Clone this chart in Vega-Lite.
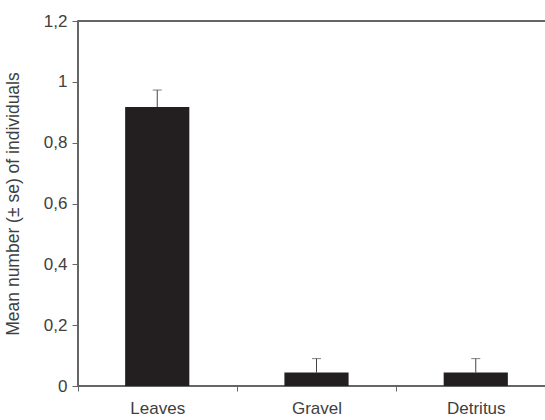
{
  "$schema": "https://vega.github.io/schema/vega-lite/v6.json",
  "width": 477,
  "height": 365,
  "padding": {"left": 4, "top": 12, "right": 0, "bottom": 0},
  "background": "white",
  "config": {
    "view": {"stroke": "#333333", "strokeWidth": 1.5},
    "font": "Liberation Sans",
    "axis": {"domainColor": "#666666", "tickColor": "#666666", "labelColor": "#404040", "titleColor": "#404040", "grid": false, "labelFontSize": 17, "titleFontSize": 17.5, "titleFontWeight": "normal"}
  },
  "data": {
    "values": [
      {"substrate": "Leaves", "mean": 0.917, "upper": 0.973},
      {"substrate": "Gravel", "mean": 0.044, "upper": 0.09},
      {"substrate": "Detritus", "mean": 0.044, "upper": 0.09}
    ]
  },
  "encoding": {
    "x": {
      "field": "substrate",
      "type": "nominal",
      "sort": null,
      "scale": {"paddingInner": 0.597, "paddingOuter": 0.296},
      "axis": {"title": null, "labelAngle": 0, "tickOffset": -79.5, "labelOffset": 79.5, "tickSize": 5, "labelPadding": 9}
    }
  },
  "layer": [
    {
      "mark": {"type": "bar", "color": "#231f20"},
      "encoding": {
        "y": {
          "field": "mean",
          "type": "quantitative",
          "scale": {"domain": [0, 1.2], "nice": false},
          "axis": {"title": "Mean number (± se) of individuals", "values": [0, 0.2, 0.4, 0.6, 0.8, 1, 1.2], "labelExpr": "replace(format(datum.value, '~g'), '.', ',')", "tickSize": 6, "labelPadding": 5, "titlePadding": 21}
        }
      }
    },
    {
      "mark": {"type": "rule", "color": "#444444", "strokeWidth": 1},
      "encoding": {
        "y": {"field": "mean", "type": "quantitative"},
        "y2": {"field": "upper"}
      }
    },
    {
      "mark": {"type": "tick", "color": "#444444", "orient": "horizontal", "size": 9, "thickness": 1},
      "encoding": {
        "y": {"field": "upper", "type": "quantitative"}
      }
    }
  ]
}
